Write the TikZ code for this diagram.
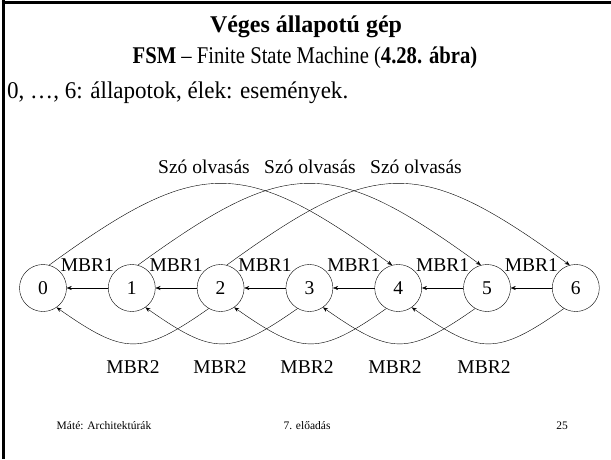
\documentclass[tikz,border=0pt]{standalone}
\usepackage{fontspec}
\setmainfont{Liberation Serif}
\usetikzlibrary{arrows.meta}

\begin{document}
\begin{tikzpicture}[x=1pt,y=1pt,
  state/.style={draw, circle, minimum size=47pt, inner sep=0pt, font=\fontsize{19.5}{20}\selectfont},
  lbl/.style={inner sep=0pt, font=\fontsize{19.5}{20}\selectfont},
  edge/.style={-{Stealth[length=5pt,width=4pt]}},
  foot/.style={inner sep=0pt, font=\fontsize{11.5}{12}\selectfont}]
\useasboundingbox (0,0) rectangle (611,459);
% slide frame
\draw[line width=3pt] (3,459) -- (3,0);
\draw[line width=3pt] (1.5,456.5) -- (611,456.5);
% heading
\node[anchor=base, inner sep=0pt] (title) at (306,426) {\fontsize{24}{26}\selectfont\bfseries Véges állapotú gép};
\node[anchor=base, inner sep=0pt] (subtitle) at (305,395) {\fontsize{24}{26}\selectfont\addfontfeatures{FakeStretch=0.86}\textbf{FSM} – Finite State Machine (\textbf{4.28. ábra)}};
\node[anchor=base west, inner sep=0pt] (intro) at (7,360) {\fontsize{24}{26}\selectfont\addfontfeatures{FakeStretch=0.96}0, …, 6: állapotok, élek: események.};
% states
\node[state] (n0) at (43,171) {0};
\node[state] (n1) at (131.8,171) {1};
\node[state] (n2) at (220.6,171) {2};
\node[state] (n3) at (309.4,171) {3};
\node[state] (n4) at (398.2,171) {4};
\node[state] (n5) at (487,171) {5};
\node[state] (n6) at (575.8,171) {6};
% MBR1 edges
\draw[edge] (n1) -- node[lbl, above=16pt] {MBR1} (n0);
\draw[edge] (n2) -- node[lbl, above=16pt] {MBR1} (n1);
\draw[edge] (n3) -- node[lbl, above=16pt] {MBR1} (n2);
\draw[edge] (n4) -- node[lbl, above=16pt] {MBR1} (n3);
\draw[edge] (n5) -- node[lbl, above=16pt] {MBR1} (n4);
\draw[edge] (n6) -- node[lbl, above=16pt] {MBR1} (n5);
% word read edges
\draw[edge] (n0.75) .. controls +(36:185) and +(144:185) .. (n4.105);
\draw[edge] (n1.75) .. controls +(36:185) and +(144:185) .. (n5.105);
\draw[edge] (n2.75) .. controls +(36:185) and +(144:185) .. (n6.105);
\node[lbl, anchor=base] (read0) at (204,286) {Szó olvasás};
\node[lbl, anchor=base] (read1) at (310,286) {Szó olvasás};
\node[lbl, anchor=base] (read2) at (416,286) {Szó olvasás};
% MBR2 edges
\draw[edge] (n2.240) .. controls +(215:83) and +(-35:83) .. (n0.-55);
\draw[edge] (n3.240) .. controls +(215:83) and +(-35:83) .. (n1.-55);
\draw[edge] (n4.240) .. controls +(215:83) and +(-35:83) .. (n2.-55);
\draw[edge] (n5.240) .. controls +(215:83) and +(-35:83) .. (n3.-55);
\draw[edge] (n6.240) .. controls +(215:83) and +(-35:83) .. (n4.-55);
\node[lbl] (mbr0) at (133,92) {MBR2};
\node[lbl] (mbr1) at (220,92) {MBR2};
\node[lbl] (mbr2) at (307,92) {MBR2};
\node[lbl] (mbr3) at (395,92) {MBR2};
\node[lbl] (mbr4) at (484,92) {MBR2};
% footer
\node[foot] (author) at (104,33) {Máté: Architektúrák};
\node[foot] (lecture) at (307,33) {7. előadás};
\node[foot, anchor=east] (page) at (568,33) {25};
\end{tikzpicture}
\end{document}
